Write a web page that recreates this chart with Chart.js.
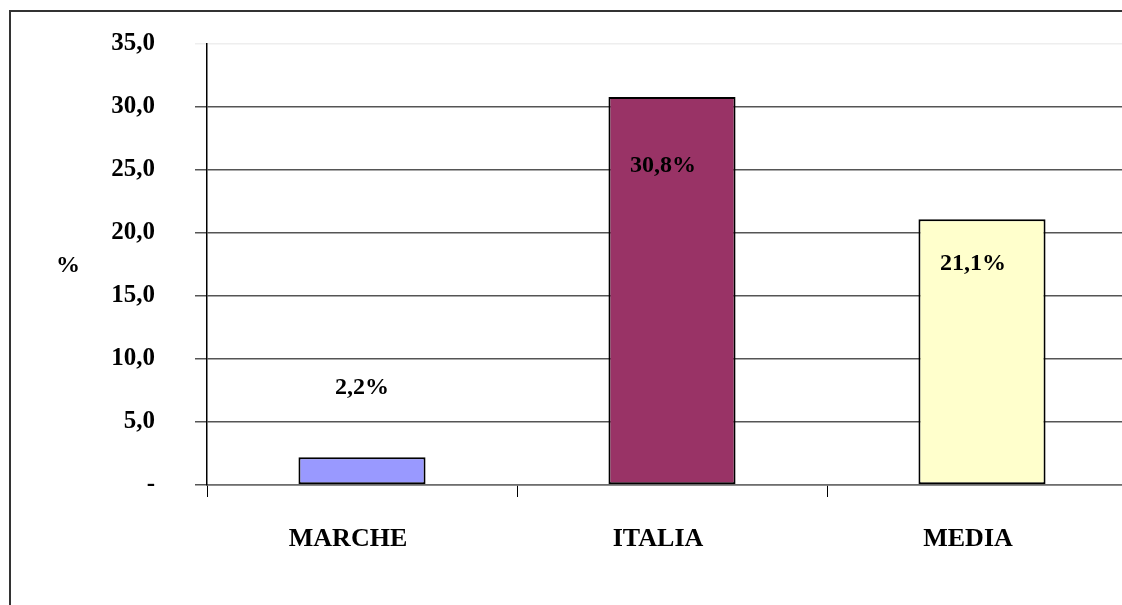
<!DOCTYPE html>
<html>
<head>
<meta charset="utf-8">
<script src="https://cdn.jsdelivr.net/npm/chart.js@4/dist/chart.umd.min.js"></script>
<style>
  html, body { margin: 0; padding: 0; background: #fff; overflow: hidden; }
  #wrap { position: relative; width: 1122px; height: 605px; overflow: hidden; }
  #frame { position: absolute; left: 9px; top: 10px; width: 1200px; height: 700px; border: 2px solid #333; box-sizing: border-box; pointer-events: none; }
  #cv { position: absolute; left: 0; top: 0; }
</style>
</head>
<body>
<div id="wrap">
  <canvas id="cv" width="1150" height="605" style="width:1150px;height:605px"></canvas>
  <div id="frame"></div>
</div>
<script>
const categories = ['MARCHE', 'ITALIA', 'MEDIA'];
const values = [2.2, 30.8, 21.1];
const valueLabels = ['2,2%', '30,8%', '21,1%'];
const barColors = ['#9999FF', '#993366', '#FFFFCC'];
const yTickLabels = { 0: '-', 5: '5,0', 10: '10,0', 15: '15,0', 20: '20,0', 25: '25,0', 30: '30,0', 35: '35,0' };

const FONT = '"Liberation Serif", "Times New Roman", serif';

const labelPlugin = {
  id: 'valueLabels',
  afterDatasetsDraw(chart, args, opts) {
    const ctx = chart.ctx;
    const meta = chart.getDatasetMeta(0);
    ctx.save();
    ctx.font = 'bold 24px ' + FONT;
    ctx.fillStyle = '#000';
    ctx.textAlign = 'center';
    ctx.textBaseline = 'middle';
    meta.data.forEach((bar, i) => {
      ctx.fillText(valueLabels[i], bar.x + opts.dx[i], bar.y + opts.dy[i]);
    });
    // y axis title "%"
    const ys = chart.scales.y;
    ctx.fillText('%', 68, (ys.top + ys.bottom) / 2 + 1);
    ctx.restore();
  }
};

new Chart(document.getElementById('cv'), {
  type: 'bar',
  data: {
    labels: categories,
    datasets: [{
      data: values,
      backgroundColor: barColors,
      borderColor: '#000',
      borderWidth: 2,
      borderSkipped: false,
      categoryPercentage: 1,
      barPercentage: 0.41
    }]
  },
  options: {
    responsive: false,
    animation: false,
    devicePixelRatio: 1,
    layout: { padding: { left: 0, right: 13, top: 44, bottom: 0 } },
    plugins: {
      legend: { display: false },
      tooltip: { enabled: false },
      valueLabels: { dx: [0, -9, -9], dy: [-69, 69, 45] }
    },
    scales: {
      x: {
        offset: true,
        grid: {
          offset: true,
          drawOnChartArea: false,
          drawTicks: true,
          tickLength: 12,
          color: '#000',
          lineWidth: 1
        },
        border: { display: true, color: '#6e6e6e', width: 1.5 },
        ticks: {
          padding: 27,
          labelOffset: -14,
          color: '#000',
          font: { family: FONT, size: 26, weight: 'bold' },
          maxRotation: 0
        },
        afterFit(scale) { scale.height = 120; scale.paddingLeft = 0; scale.paddingRight = 0; }
      },
      y: {
        min: 0,
        max: 35,
        ticks: {
          stepSize: 5,
          padding: 40,
          color: '#000',
          font: { family: FONT, size: 25, weight: 'bold' },
          callback: (v) => yTickLabels[v] !== undefined ? yTickLabels[v] : ''
        },
        grid: {
          drawTicks: true,
          tickLength: 12,
          color: (c) => c.tick && c.tick.value === 35 ? '#eeeeee' : '#555555',
          lineWidth: 1.5
        },
        border: { display: true, color: '#000', width: 1.5 },
        afterFit(scale) { scale.width = 207; scale.paddingTop = 0; scale.paddingBottom = 0; }
      }
    }
  },
  plugins: [labelPlugin]
});
</script>
</body>
</html>
